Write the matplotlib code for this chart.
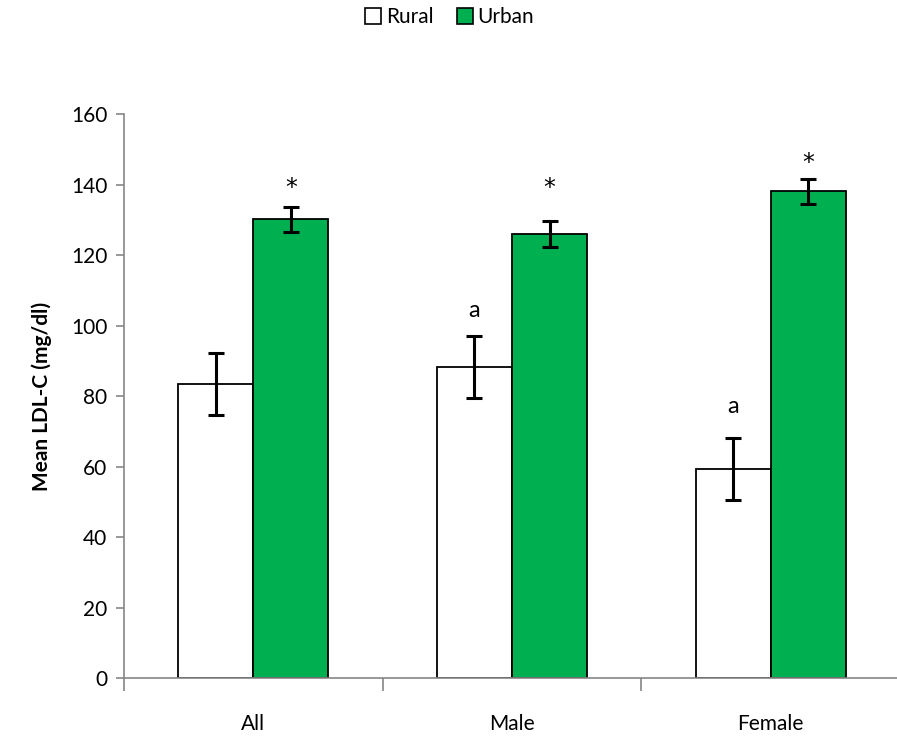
import matplotlib
matplotlib.use("Agg")
import matplotlib.pyplot as plt
import numpy as np
from matplotlib.lines import Line2D

categories = ["All", "Male", "Female"]
rural = [83.4, 88.2, 59.4]
rural_err = [8.8, 8.8, 8.8]
urban = [130.1, 126.0, 138.1]
urban_err = [3.6, 3.6, 3.6]
star_y = [139.0, 139.0, 146.1]
a_labels = ["", "a", "a"]
a_y = [None, 104.2, 77.0]
yticks = [0, 20, 40, 60, 80, 100, 120, 140, 160]

plt.rcParams['font.family'] = ['Lato', 'DejaVu Sans']

fig = plt.figure(figsize=(8.97, 7.4), dpi=100)
ax = fig.add_axes([124/897, (740-678.3)/740, (900-124)/897, (678.3-114)/740])

x = np.arange(len(categories))
w = 0.29
green = "#00B050"
ax.bar(x - w/2, rural, w, color="white", edgecolor="black", linewidth=1.3, zorder=2)
ax.bar(x + w/2, urban, w, color=green, edgecolor="black", linewidth=1.3, zorder=2)
ax.errorbar(x - w/2, rural, yerr=rural_err, fmt="none", ecolor="black",
            elinewidth=2.2, capsize=6, capthick=2.2, zorder=3)
ax.errorbar(x + w/2, urban, yerr=urban_err, fmt="none", ecolor="black",
            elinewidth=2.2, capsize=6, capthick=2.2, zorder=3)

for i in range(len(categories)):
    ax.text(x[i] + w/2, star_y[i], "*", ha="center", va="center", fontsize=17,
            family=["DejaVu Sans"])
    if a_labels[i]:
        ax.text(x[i] - w/2, a_y[i], a_labels[i], ha="center", va="center", fontsize=17)

ax.set_xlim(-0.5, 2.5)
ax.set_ylim(0, 160)
ax.set_yticks(yticks)
ax.set_yticklabels([str(t) for t in yticks], fontsize=15)
ax.set_xticks([-0.5, 0.5, 1.5, 2.5], minor=False)
ax.set_xticklabels([])
ax.set_xticks(x, minor=True)
ax.set_xticklabels(categories, minor=True, fontsize=15)
ax.tick_params(axis="x", which="major", length=9, color="#868686", width=1.2, direction="out")
ax.tick_params(axis="x", which="minor", length=0, pad=26)
ax.tick_params(axis="y", length=6, color="#868686", width=1.2, direction="out", pad=6)

for s in ["top", "right"]:
    ax.spines[s].set_visible(False)
for s in ["left", "bottom"]:
    ax.spines[s].set_color("#868686")
    ax.spines[s].set_linewidth(1.2)

ax.set_ylabel("Mean LDL-C (mg/dl)", fontsize=15, fontweight="bold", labelpad=14)

handles = [
    Line2D([], [], marker="s", linestyle="none", markerfacecolor="white",
           markeredgecolor="black", markersize=12, markeredgewidth=1.2, label="Rural"),
    Line2D([], [], marker="s", linestyle="none", markerfacecolor=green,
           markeredgecolor="black", markersize=12, markeredgewidth=1.2, label="Urban"),
]
fig.legend(handles=handles, loc="center", bbox_to_anchor=(0.5, 1 - 17/740), ncol=2,
           frameon=False, fontsize=15, handletextpad=0.1, columnspacing=1.0,
           handlelength=1.0)

fig.savefig("out.png", dpi=100)
